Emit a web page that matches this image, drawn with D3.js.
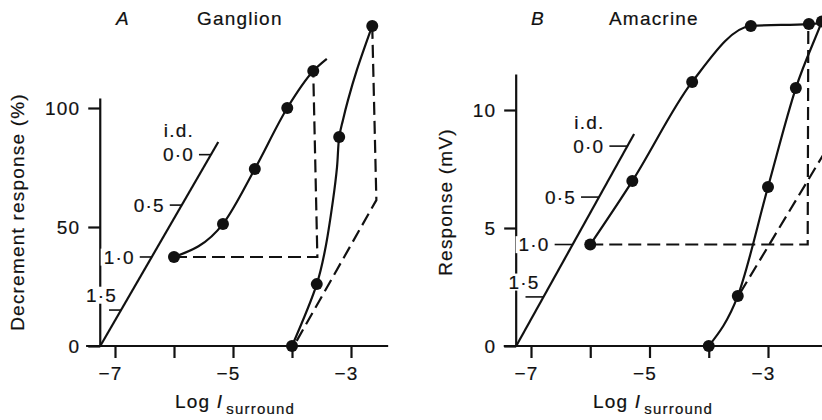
<!DOCTYPE html>
<html>
<head>
<meta charset="utf-8">
<script src="https://cdn.jsdelivr.net/npm/d3@7"></script>
<style>
  body { margin: 0; background: #fff; }
  svg text { font-family: "Liberation Sans", Arial, sans-serif; fill: #111; letter-spacing: 1.2px; stroke: #111; stroke-width: 0.2px; }
</style>
</head>
<body>
<svg id="chart" width="822" height="420"></svg>
<script>
// shared
var xTicks = [-7, -6, -5, -4, -3];
var xTickLabels = [-7, -5, -3];
var idTicks = [0.0, 0.5, 1.0, 1.5];

// A: ganglion, decrement response (%)
var gangYTicks = [0, 50, 100];
var gangAxisX = [-7.49, -2.37];
var gangAxisTop = 104;
var gangCurve1X = [-6.0, -5.17, -4.63, -4.08, -3.64];
var gangCurve1Y = [37.4, 51.3, 74.4, 100, 115.5];
var gangCurve1Tail = [-3.41, 120.6];
var gangCurve2X = [-4.0, -3.58, -3.2, -2.64];
var gangCurve2Y = [0, 26, 87.8, 134.5];
// traced line of the steep curve
var gangLine2X = [-4.0, -3.58, -3.44, -3.305, -3.237, -3.2, -3.136, -3.05, -2.90, -2.64];
var gangLine2Y = [0, 26, 40.3, 61.3, 75.2, 87.8, 95.0, 103.4, 116.0, 134.5];
var gangDash1X = [-6.0, -3.57, -3.64];
var gangDash1Y = [37.4, 37.4, 115.5];
var gangDash2X = [-2.64, -2.57, -3.97];
var gangDash2Y = [134.5, 61.3, 0];
var gangIdLineX = [-7.25, -5.25];
var gangIdLineY = [0, 85.7];
var gangIdLevel = [80.4, 59.2, 37.4, 15.1];

// B: amacrine, response (mV)
var amaYTicks = [0, 5, 10];
var amaAxisX = [-7.46, -1.9];
var amaAxisTop = 11.5;
var amaCurve1X = [-6.0, -5.29, -4.28, -3.29, -2.31];
var amaCurve1Y = [4.3, 6.99, 11.19, 13.56, 13.64];
var amaCurve1Tail = [-1.95, 13.7];
var amaCurve2X = [-4.0, -3.51, -3.0, -2.53, -2.09];
var amaCurve2Y = [0, 2.12, 6.74, 10.93, 13.75];
var amaCurve2Tail = [-1.9, 15.0];
var amaDash1X = [-6.0, -2.33, -2.32];
var amaDash1Y = [4.3, 4.3, 13.5];
var amaDash2X = [-3.47, -1.9];
var amaDash2Y = [2.25, 8.8];
var amaIdLineX = [-7.25, -5.26];
var amaIdLineY = [0, 8.98];
var amaIdLevel = [8.47, 6.31, 4.3, 2.08];

var svg = d3.select("#chart");
var ink = "#111";

function zip(xs, ys) {
  return xs.map(function(d, i) { return [d, ys[i]]; });
}

function drawPanel(p) {
  var g = svg.append("g");
  var x = d3.scaleLinear().domain([-7, -3]).range(p.xRange);
  var y = d3.scaleLinear().domain([0, p.yTicks[2]]).range([346, p.yTop]);
  var line = d3.line().x(function(d) { return x(d[0]); }).y(function(d) { return y(d[1]); });
  var yAxisX = p.idLineX[0];

  // x axis
  g.append("line")
    .attr("x1", x(p.axisX[0])).attr("x2", x(p.axisX[1]))
    .attr("y1", y(0)).attr("y2", y(0))
    .attr("stroke", ink).attr("stroke-width", 2.2);
  var xa = g.append("g")
    .attr("transform", "translate(0," + y(0) + ")")
    .call(d3.axisBottom(x).tickValues(xTicks).tickSize(12).tickPadding(9)
      .tickFormat(function(d) { return xTickLabels.indexOf(d) >= 0 ? "\u2212" + Math.abs(d) : ""; }));
  xa.select(".domain").remove();
  xa.selectAll("line").attr("stroke", ink).attr("stroke-width", 2.2);
  xa.selectAll("text").attr("font-size", 19).attr("text-anchor", "end").attr("dx", 7);

  // y axis
  g.append("line")
    .attr("x1", x(yAxisX)).attr("x2", x(yAxisX))
    .attr("y1", y(0)).attr("y2", y(p.axisTop))
    .attr("stroke", ink).attr("stroke-width", 2.2);
  var ya = g.append("g")
    .attr("transform", "translate(" + x(yAxisX) + ",0)")
    .call(d3.axisLeft(y).tickValues(p.yTicks).tickSize(12).tickPadding(8));
  ya.select(".domain").remove();
  ya.selectAll("line").attr("stroke", ink).attr("stroke-width", 2.2);
  ya.selectAll("text").attr("font-size", 19);

  // i.d. wedge
  var idSlope = (p.idLineX[1] - p.idLineX[0]) / (p.idLineY[1] - p.idLineY[0]);
  function idX(v) { return p.idLineX[0] + (v - p.idLineY[0]) * idSlope; }
  var wedge = g.append("g");
  p.idLevel.forEach(function(v, i) {
    var xe = x(idX(v)), ye = y(v);
    var last = i === idTicks.length - 1;
    var t = wedge.append("text")
      .attr("x", last ? xe - 4 : xe - p.idTick - 5)
      .attr("y", last ? ye - 15 : ye)
      .attr("dy", "0.35em")
      .attr("text-anchor", "end")
      .attr("font-size", 19)
      .text(idTicks[i].toFixed(1).replace(".", "\u00b7"));
    var bb = t.node().getBBox();
    wedge.insert("rect", function() { return t.node(); })
      .attr("x", bb.x - 3).attr("y", bb.y + 2).attr("width", bb.width + 4).attr("height", bb.height - 4)
      .attr("fill", "#fff");
    wedge.append("line")
      .attr("x1", xe - p.idTick).attr("x2", xe)
      .attr("y1", ye).attr("y2", ye)
      .attr("stroke", ink).attr("stroke-width", 1.6);
    if (i === 0) {
      wedge.append("text")
        .attr("x", xe - p.idTick - 5).attr("y", ye - 24).attr("dy", "0.35em")
        .attr("text-anchor", "end").attr("font-size", 19).text("i.d.");
    }
  });
  wedge.append("path")
    .attr("d", line(zip(p.idLineX, p.idLineY)))
    .attr("fill", "none").attr("stroke", ink).attr("stroke-width", 2.2);

  // dashed
  [zip(p.dash1X, p.dash1Y), zip(p.dash2X, p.dash2Y)].forEach(function(pts) {
    g.append("path").attr("d", line(pts))
      .attr("fill", "none").attr("stroke", ink).attr("stroke-width", 2.2)
      .attr("stroke-dasharray", "13,6");
  });

  // curves
  var smooth = d3.line().x(function(d) { return x(d[0]); }).y(function(d) { return y(d[1]); })
    .curve(d3.curveMonotoneX);
  var traced = d3.line().x(function(d) { return x(d[0]); }).y(function(d) { return y(d[1]); })
    .curve(d3.curveCatmullRom.alpha(0.5));
  p.curves.forEach(function(c) {
    var d;
    if (c.lineX) {
      d = traced(zip(c.lineX, c.lineY));
    } else {
      var pts = zip(c.x, c.y);
      if (c.tail) pts.push(c.tail);
      d = smooth(pts);
    }
    g.append("path").attr("d", d)
      .attr("fill", "none").attr("stroke", ink).attr("stroke-width", 2.2);
    g.selectAll(null).data(zip(c.x, c.y)).enter().append("circle")
      .attr("cx", function(d) { return x(d[0]); })
      .attr("cy", function(d) { return y(d[1]); })
      .attr("r", 6).attr("fill", ink);
  });

  // titles
  g.append("text").attr("x", p.letterX).attr("y", 25).attr("font-size", 19)
    .attr("font-style", "italic").text(p.letter);
  g.append("text").attr("x", p.nameX).attr("y", 25).attr("font-size", 19).text(p.name);

  var xl = g.append("text").attr("x", p.xLabelX).attr("y", 408).attr("font-size", 19);
  xl.append("tspan").text("Log ");
  xl.append("tspan").attr("font-style", "italic").text("I");
  xl.append("tspan").attr("font-size", 15).attr("dy", 6).attr("dx", 3).text("surround");

  g.append("text")
    .attr("transform", "translate(" + p.yLabelX + "," + p.yLabelY + ") rotate(-90)")
    .attr("text-anchor", "middle").attr("dy", "0.35em").attr("font-size", 19)
    .text(p.yLabel);
}

drawPanel({
  xRange: [115, 351], yTicks: gangYTicks, yTop: 108,
  axisX: gangAxisX, axisTop: gangAxisTop,
  idLineX: gangIdLineX, idLineY: gangIdLineY, idLevel: gangIdLevel, idTick: 12,
  dash1X: gangDash1X, dash1Y: gangDash1Y, dash2X: gangDash2X, dash2Y: gangDash2Y,
  curves: [
    { x: gangCurve1X, y: gangCurve1Y, tail: gangCurve1Tail },
    { x: gangCurve2X, y: gangCurve2Y, lineX: gangLine2X, lineY: gangLine2Y }
  ],
  letter: "A", letterX: 116, name: "Ganglion", nameX: 197,
  xLabelX: 175, yLabelX: 17, yLabelY: 212, yLabel: "Decrement response (%)"
});

drawPanel({
  xRange: [531, 768], yTicks: amaYTicks, yTop: 110,
  axisX: amaAxisX, axisTop: amaAxisTop,
  idLineX: amaIdLineX, idLineY: amaIdLineY, idLevel: amaIdLevel, idTick: 18,
  dash1X: amaDash1X, dash1Y: amaDash1Y, dash2X: amaDash2X, dash2Y: amaDash2Y,
  curves: [
    { x: amaCurve1X, y: amaCurve1Y, tail: amaCurve1Tail },
    { x: amaCurve2X, y: amaCurve2Y, tail: amaCurve2Tail }
  ],
  letter: "B", letterX: 531, name: "Amacrine", nameX: 609,
  xLabelX: 593, yLabelX: 445, yLabelY: 202, yLabel: "Response (mV)"
});
</script>
</body>
</html>
